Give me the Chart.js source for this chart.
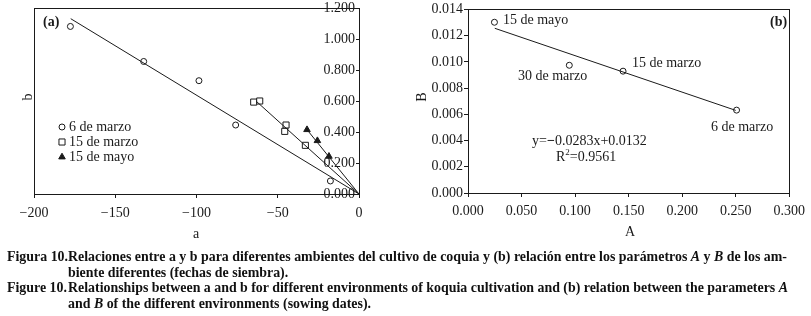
<!DOCTYPE html>
<html><head><meta charset="utf-8">
<script src="https://cdn.jsdelivr.net/npm/chart.js@4.4.0/dist/chart.umd.min.js"></script>
<style>
body{margin:0;background:#fff;width:811px;height:316px;overflow:hidden;position:relative;font-family:"Liberation Serif","Times New Roman",serif;color:#1a1a1a}
.t{position:absolute;white-space:nowrap;font-size:14px;line-height:16px}
.b{font-weight:bold}
.cap{position:absolute;white-space:nowrap;font-size:14px;line-height:15px;font-weight:bold;transform-origin:0 50%;color:#111}
canvas{position:absolute}
</style></head><body>
<canvas id="ca" width="400" height="240" style="left:0;top:0"></canvas>
<canvas id="cb" width="411" height="240" style="left:400px;top:0"></canvas>

<div class="t b" style="left:43px;top:14px">(a)</div>
<div class="t" style="left:69px;top:119px">6 de marzo</div>
<div class="t" style="left:69px;top:134px">15 de marzo</div>
<div class="t" style="left:69px;top:149px">15 de mayo</div>
<div class="t" style="left:21px;top:89px;transform:rotate(-90deg);transform-origin:50% 50%;width:14px;text-align:center">b</div>
<div class="t" style="left:193px;top:226px">a</div>

<div class="t" style="left:503px;top:12px">15 de mayo</div>
<div class="t" style="left:518px;top:68px">30 de marzo</div>
<div class="t" style="left:632px;top:55px">15 de marzo</div>
<div class="t" style="left:711px;top:119px">6 de marzo</div>
<div class="t b" style="left:770px;top:14px">(b)</div>
<div class="t" style="left:532px;top:133px">y=<b>−</b>0.0283x+0.0132</div>
<div class="t" style="left:556px;top:149px">R<sup style="font-size:9px;line-height:0">2</sup>=0.9561</div>
<div class="t" style="left:415px;top:89px;transform:rotate(-90deg);transform-origin:50% 50%;width:14px;text-align:center">B</div>
<div class="t" style="left:625px;top:224px">A</div>

<div class="cap lab" id="lab1" style="left:7px;top:249px">Figura 10.</div>
<div class="cap j" id="m1" data-end="787" style="top:249px">Relaciones entre a y b para diferentes ambientes del cultivo de coquia y (b) relación entre los parámetros <i>A</i> y <i>B</i> de los am-</div>
<div class="cap n" style="top:265px">biente diferentes (fechas de siembra).</div>
<div class="cap lab" style="left:7px;top:280px">Figure 10.</div>
<div class="cap j" data-end="788" style="top:280px">Relationships between a and b for different environments of koquia cultivation and (b) relation between the parameters <i>A</i></div>
<div class="cap n" style="top:296px">and <i>B</i> of the different environments (sowing dates).</div>

<script>
// ---- Chart (a) data ----
const marzo6A = [-177.6, -132.5, -98.5, -75.9, -17.6];
const marzo6B = [1.081, 0.855, 0.731, 0.445, 0.084];
const marzo15A = [-64.8, -61.1, -44.9, -45.7, -33.0];
const marzo15B = [0.593, 0.600, 0.445, 0.404, 0.314];
const mayo15A = [-32.0, -25.6, -18.5];
const mayo15B = [0.415, 0.344, 0.243];
const fit6MarzoA = [-177.4, 0];
const fit6MarzoB = [1.131, 0];
const fit15MarzoA = [-63.2, 0];
const fit15MarzoB = [0.598, 0];
const fit15MayoA = [-32.0, 0];
const fit15MayoB = [0.415, 0];
const xTicksA = [-200, -150, -100, -50, 0];
const yTicksA = [0, 0.2, 0.4, 0.6, 0.8, 1.0, 1.2];

// ---- Chart (b) data ----
const envNames = ['15 de mayo', '30 de marzo', '15 de marzo', '6 de marzo'];
const paramA = [0.0247, 0.0946, 0.1448, 0.2508];
const paramB = [0.01302, 0.00974, 0.00929, 0.00632];
const trendA = [0.025, 0.25];
const trendB = [0.01256, 0.0063];
const xTicksB = [0, 0.05, 0.1, 0.15, 0.2, 0.25, 0.3];
const yTicksB = [0, 0.002, 0.004, 0.006, 0.008, 0.01, 0.012, 0.014];

const zip = (xs, ys) => xs.map((x, i) => ({x, y: ys[i]}));
const INK = '#1a1a1a';
const tickFont = {family: '"Liberation Serif", serif', size: 14};

const boxPlugin = {
  id: 'box',
  afterDraw(chart, args, opts) {
    const {ctx, chartArea: a} = chart;
    ctx.save();
    ctx.strokeStyle = INK; ctx.lineWidth = 1;
    ctx.strokeRect(Math.round(a.left) + 0.5, Math.round(a.top) + 0.5,
      Math.round(a.right - a.left), Math.round(a.bottom - a.top));
    if (opts.inwardY) {
      const y = chart.scales.y;
      y.ticks.forEach((t, i) => {
        const py = Math.round(y.getPixelForTick(i)) + 0.5;
        ctx.beginPath(); ctx.moveTo(a.right - 3, py); ctx.lineTo(a.right, py); ctx.stroke();
      });
    }
    if (opts.legend) {
      const ls = [['circle', false, 3], ['rect', false, 4.3], ['triangle', true, 3.8]];
      const rows = [127, 142, 157];
      ls.forEach((l, i) => {
        ctx.fillStyle = l[1] ? INK : '#fff';
        ctx.strokeStyle = INK; ctx.lineWidth = 1;
        Chart.helpers.drawPoint(ctx, {pointStyle: l[0], radius: l[2], borderWidth: 1}, 62, rows[i]);
      });
    }
    ctx.restore();
  }
};

const xAxisCommon = {
  type: 'linear', position: 'bottom',
  grid: {display: true, drawOnChartArea: false, drawTicks: true, tickLength: 4, color: INK},
  border: {display: false},
};

new Chart(document.getElementById('ca'), {
  type: 'scatter',
  data: {datasets: [
    {data: zip(fit6MarzoA, fit6MarzoB), showLine: true, borderColor: INK, borderWidth: 1, pointRadius: 0},
    {data: zip(fit15MarzoA, fit15MarzoB), showLine: true, borderColor: INK, borderWidth: 1, pointRadius: 0},
    {data: zip(fit15MayoA, fit15MayoB), showLine: true, borderColor: INK, borderWidth: 1, pointRadius: 0},
    {label: '6 de marzo', data: zip(marzo6A, marzo6B), pointStyle: 'circle', pointRadius: 3, borderColor: INK, backgroundColor: '#fff', borderWidth: 1},
    {label: '15 de marzo', data: zip(marzo15A, marzo15B), pointStyle: 'rect', pointRadius: 4.3, borderColor: INK, backgroundColor: '#fff', borderWidth: 1},
    {label: '15 de mayo', data: zip(mayo15A, mayo15B), pointStyle: 'triangle', pointRadius: 3.8, borderColor: INK, backgroundColor: INK, borderWidth: 1},
  ]},
  options: {
    responsive: false, animation: false,
    layout: {padding: {left: 34, top: 8, right: 0, bottom: 0}},
    plugins: {legend: {display: false}, tooltip: {enabled: false}, box: {inwardY: true, legend: true}},
    scales: {
      x: Object.assign({}, xAxisCommon, {
        min: -200, max: 0,
        afterBuildTicks: s => { s.ticks = xTicksA.map(v => ({value: v})); },
        afterFit: s => { s.height = 46; },
        ticks: {font: tickFont, color: INK, padding: 7, maxRotation: 0,
          callback: v => v < 0 ? '\u2212' + Math.abs(v) : String(v)}
      }),
      y: {
        type: 'linear', position: 'right', min: 0, max: 1.2,
        grid: {display: false}, border: {display: false},
        afterBuildTicks: s => { s.ticks = yTicksA.map(v => ({value: v})); },
        afterFit: s => { s.width = 41; },
        ticks: {mirror: true, crossAlign: 'near', font: tickFont, color: INK, padding: -4, callback: v => v.toFixed(3)}
      }
    }
  },
  plugins: [boxPlugin]
});

new Chart(document.getElementById('cb'), {
  type: 'scatter',
  data: {datasets: [
    {data: zip(trendA, trendB), showLine: true, borderColor: INK, borderWidth: 1, pointRadius: 0},
    {label: 'ambientes', data: zip(paramA, paramB), pointStyle: 'circle', pointRadius: 3, borderColor: INK, backgroundColor: '#fff', borderWidth: 1},
  ]},
  options: {
    responsive: false, animation: false,
    layout: {padding: {left: 0, top: 7, right: 20, bottom: 0}},
    plugins: {legend: {display: false}, tooltip: {enabled: false}, box: {}},
    scales: {
      x: Object.assign({}, xAxisCommon, {
        min: 0, max: 0.3,
        afterBuildTicks: s => { s.ticks = xTicksB.map(v => ({value: v})); },
        afterFit: s => { s.height = 47; },
        ticks: {font: tickFont, color: INK, padding: 6, maxRotation: 0, callback: v => v.toFixed(3)}
      }),
      y: {
        type: 'linear', position: 'left', min: 0, max: 0.014,
        grid: {display: true, drawOnChartArea: false, drawTicks: true, tickLength: 4, color: INK},
        border: {display: false},
        afterBuildTicks: s => { s.ticks = yTicksB.map(v => ({value: v})); },
        afterFit: s => { s.width = 68; },
        ticks: {font: tickFont, color: INK, padding: 1, callback: v => v.toFixed(3)}
      }
    }
  },
  plugins: [boxPlugin]
});

// caption: one common horizontal scale, hanging indent, full lines justified
const wOf = el => el.getBoundingClientRect().width;
const labNat = wOf(document.getElementById('lab1'));
const m1Nat = wOf(document.getElementById('m1'));
const sc = (787 - 7) / (labNat + m1Nat);
const indent = 7 + labNat * sc;
document.querySelectorAll('.cap').forEach(el => {
  const nat = wOf(el);
  el.style.transform = 'scaleX(' + sc + ')';
  if (el.classList.contains('lab')) return;
  el.style.left = indent + 'px';
  if (el.classList.contains('j')) {
    const spaces = (el.textContent.match(/ /g) || []).length;
    const target = (+el.dataset.end - indent) / sc;
    el.style.wordSpacing = ((target - nat) / spaces) + 'px';
  }
});
</script>
</body></html>
